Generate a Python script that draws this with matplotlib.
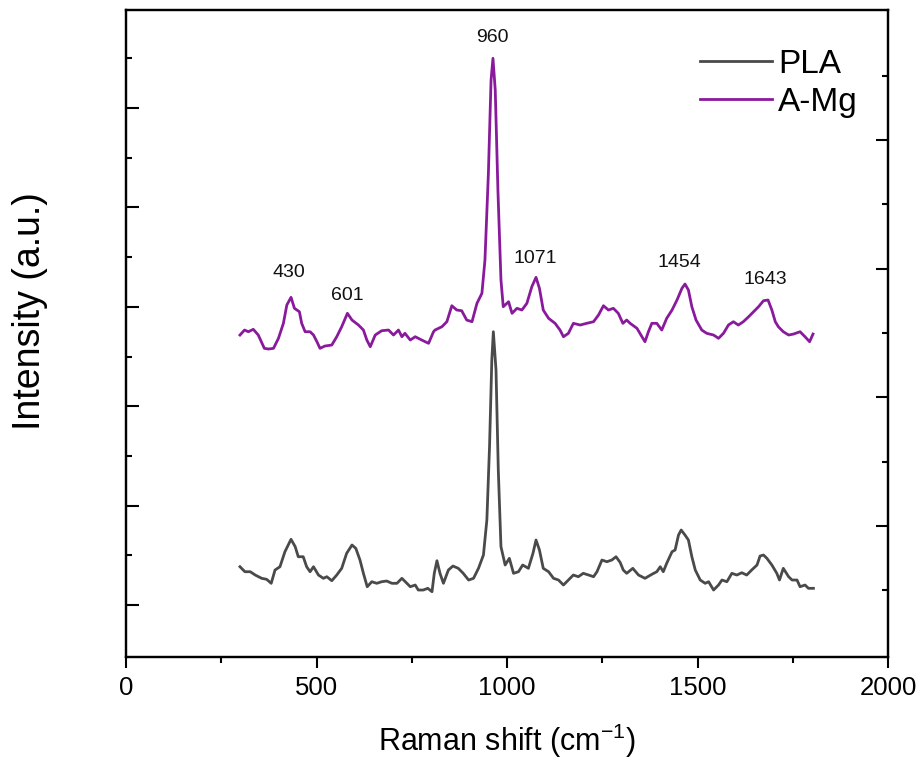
import numpy as np
import matplotlib
matplotlib.use("Agg")
import matplotlib.pyplot as plt

plt.rcParams['font.family'] = ['Liberation Sans', 'DejaVu Sans']
plt.rcParams['mathtext.default'] = 'regular'

# Raman shift (cm-1) and intensity (a.u.)
amg_x = [299, 311, 321, 334, 347, 363, 374, 387, 400, 413, 422, 433, 442, 455, 461, 470,
         483, 492, 501, 509, 522, 540, 553, 566, 581, 593, 610, 623, 632, 641, 654, 671,
         689, 702, 715, 724, 732, 746, 759, 776, 794, 807, 811, 829, 842, 855, 868, 881,
         894, 908, 921, 934, 942, 951, 958, 963, 969, 976, 984, 990, 1004, 1013, 1026, 1039,
         1052, 1065, 1076, 1085, 1095, 1109, 1126, 1139, 1148, 1161, 1174, 1192, 1209, 1227,
         1240, 1253, 1266, 1279, 1292, 1304, 1314, 1323, 1341, 1354, 1362, 1371, 1380, 1393,
         1406, 1419, 1433, 1446, 1459, 1467, 1476, 1485, 1496, 1511, 1524, 1542, 1555, 1568,
         1581, 1594, 1607, 1620, 1634, 1647, 1660, 1673, 1685, 1695, 1704, 1712, 1725, 1739,
         1752, 1769, 1782, 1794, 1803]
amg_y = [3220, 3270, 3253, 3277, 3220, 3087, 3080, 3087, 3187, 3337, 3520, 3597, 3487, 3453, 3337, 3253,
         3253, 3220, 3153, 3087, 3110, 3120, 3203, 3303, 3437, 3370, 3320, 3270, 3170, 3103, 3220, 3263,
         3270, 3220, 3270, 3203, 3237, 3170, 3203, 3170, 3137, 3253, 3270, 3303, 3353, 3513, 3470, 3463,
         3370, 3353, 3537, 3637, 3970, 4837, 5770, 5987, 5670, 4670, 3770, 3503, 3553, 3437, 3487, 3470,
         3537, 3703, 3797, 3687, 3470, 3387, 3337, 3270, 3203, 3237, 3337, 3320, 3337, 3353,
         3420, 3513, 3470, 3487, 3437, 3337, 3370, 3337, 3287, 3203, 3153, 3253, 3337, 3337,
         3270, 3387, 3470, 3570, 3687, 3730, 3670, 3503, 3370, 3270, 3237, 3220, 3187, 3237,
         3320, 3353, 3320, 3353, 3403, 3453, 3503, 3563, 3570, 3470, 3353, 3303, 3253, 3220,
         3230, 3253, 3203, 3153, 3230]

pla_x = [299, 312, 326, 339, 356, 369, 381, 391, 404, 417, 433, 444, 452, 465, 474, 483,
         492, 505, 518, 527, 540, 553, 566, 579, 593, 603, 614, 623, 633, 645, 658, 671,
         684, 698, 711, 724, 737, 746, 759, 767, 780, 792, 803, 809, 816, 824, 833, 846,
         858, 872, 885, 899, 912, 925, 938, 947, 954, 960, 964, 971, 977, 984, 995, 1006,
         1017, 1030, 1041, 1056, 1068, 1076, 1085, 1095, 1109, 1122, 1135, 1148, 1161, 1174,
         1187, 1200, 1214, 1227, 1236, 1249, 1262, 1275, 1286, 1297, 1305, 1314, 1330, 1345,
         1362, 1380, 1393, 1402, 1410, 1419, 1433, 1441, 1450, 1457, 1467, 1476, 1485, 1494,
         1507, 1520, 1529, 1542, 1555, 1564, 1577, 1590, 1603, 1616, 1629, 1642, 1656, 1664,
         1673, 1682, 1695, 1708, 1715, 1725, 1739, 1748, 1761, 1769, 1782, 1791, 1804]
pla_y = [903, 853, 853, 820, 787, 777, 737, 870, 903, 1053, 1177, 1103, 1003, 1003, 903, 853,
         903, 820, 787, 803, 763, 820, 887, 1037, 1120, 1087, 970, 837, 703, 753, 737, 753,
         760, 737, 737, 787, 737, 703, 720, 670, 670, 687, 653, 837, 963, 837, 737, 870,
         910, 887, 837, 770, 787, 887, 1020, 1370, 2103, 2970, 3253, 2870, 1870, 1103, 920, 987,
         837, 853, 920, 887, 1037, 1170, 1070, 887, 853, 787, 770, 720, 770, 820,
         803, 837, 820, 803, 853, 970, 953, 970, 1003, 945, 870, 837, 887, 820,
         787, 827, 853, 903, 853, 937, 1053, 1070, 1220, 1270, 1220, 1170, 1003, 870,
         770, 737, 753, 670, 720, 770, 753, 837, 820, 843, 820, 870, 920, 1010,
         1020, 987, 920, 837, 770, 887, 803, 770, 770, 703, 720, 687, 687]

peak_labels = ['430', '601', '960', '1071', '1454', '1643']
peak_x = [428, 580, 961, 1074, 1452, 1677]
peak_y = [3850, 3620, 6200, 3990, 3950, 3780]

pla_color = '#4a4a4a'
amg_color = '#8a1a9c'

fig = plt.figure(figsize=(9.18, 7.6), dpi=100)
ax = fig.add_axes([0.1373, 0.1355, 0.8301, 0.8513])

ax.plot(pla_x, pla_y, color=pla_color, lw=2, label='PLA')
ax.plot(amg_x, amg_y, color=amg_color, lw=2, label='A-Mg')

for lab, px, py in zip(peak_labels, peak_x, peak_y):
    ax.text(px, py, lab, ha='center', va='center', fontsize=14, color='#111111')

ax.set_xlim(0, 2000)
ax.set_ylim(0, 6470)
ax.set_xticks([0, 500, 1000, 1500, 2000])
ax.set_xticks([250, 750, 1250, 1750], minor=True)
ax.set_yticks([520, 1514, 2508, 3502, 4496, 5490])
ax.set_yticks([1017, 2011, 3005, 3999, 4993, 5987], minor=True)
ax.set_yticklabels([])

ax.tick_params(axis='x', which='major', direction='out', length=8, width=1.5, pad=6,
               labelsize=18.5)
ax.tick_params(axis='x', which='minor', direction='out', length=4, width=1.5)
ax.tick_params(axis='y', which='major', direction='in', length=9, width=1.5, right=False)
ax.tick_params(axis='y', which='minor', direction='in', length=4.5, width=1.5, right=False)

ax2 = ax.twinx()
ax2.set_ylim(0, 6470)
ax2.set_yticks([1310, 2597, 3884, 5171])
ax2.set_yticks([667, 1954, 3241, 4528, 5815], minor=True)
ax2.set_yticklabels([])
ax2.tick_params(axis='y', which='major', direction='in', length=9, width=1.5)
ax2.tick_params(axis='y', which='minor', direction='in', length=4.5, width=1.5)

for a in (ax, ax2):
    for s in a.spines.values():
        s.set_linewidth(1.6)

ax.set_xlabel('Raman shift (cm$^{-1}$)', fontsize=22, va='center')
ax.xaxis.set_label_coords(0.5, -0.13)
ax.set_ylabel('Intensity (a.u.)', fontsize=27, va='center')
ax.yaxis.set_label_coords(-0.126, 0.535)

ax.legend(loc='upper left', bbox_to_anchor=(0.753, 0.94), frameon=False, fontsize=24,
          handlelength=2.15, handletextpad=0.2, labelspacing=0.2, borderpad=0,
          borderaxespad=0)

fig.savefig('out.png', dpi=100)
